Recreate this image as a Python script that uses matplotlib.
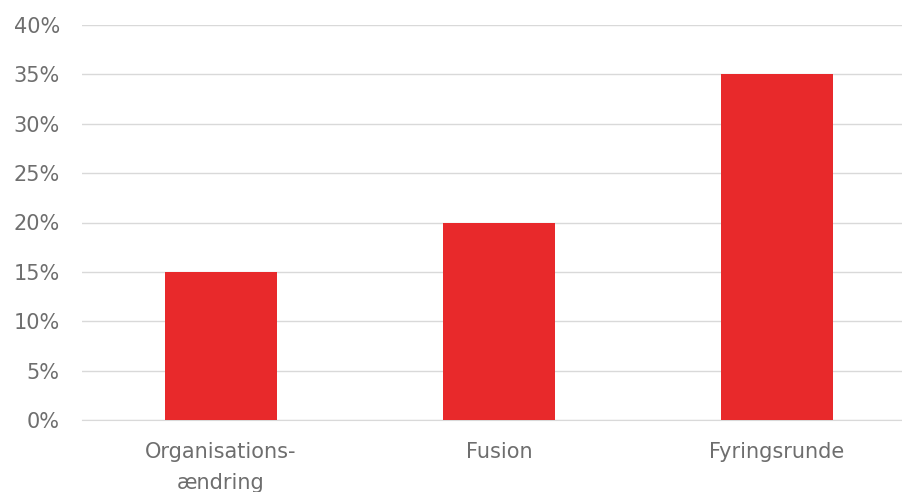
import matplotlib.pyplot as plt
from matplotlib.ticker import PercentFormatter

# categories and shares (in percent)
categories = ["Organisations-\nændring", "Fusion", "Fyringsrunde"]
values = [15, 20, 35]
yticks = [0, 5, 10, 15, 20, 25, 30, 35, 40]

fig = plt.figure(figsize=(9.03, 4.92), dpi=100)
ax = fig.add_axes([82 / 903, 72 / 492, 834 / 903, 395 / 492])

ax.bar(range(len(categories)), values, width=0.4, color="#E8292B", zorder=3)

ax.set_xlim(-0.5, 2.5)
ax.set_ylim(0, 40)
ax.set_yticks(yticks)
ax.yaxis.set_major_formatter(PercentFormatter(decimals=0))
ax.set_xticks(range(len(categories)))
ax.set_xticklabels(categories, linespacing=1.65)

ax.grid(axis="y", color="#D9D9D9", linewidth=1, zorder=0)
for s in ["top", "right", "left"]:
    ax.spines[s].set_visible(False)
ax.spines["bottom"].set_color("#D9D9D9")
ax.tick_params(axis="both", length=0, labelsize=15, colors="#6E6E6E")
ax.tick_params(axis="y", pad=16)
ax.tick_params(axis="x", pad=16)

fig.savefig("out.png", dpi=100)
